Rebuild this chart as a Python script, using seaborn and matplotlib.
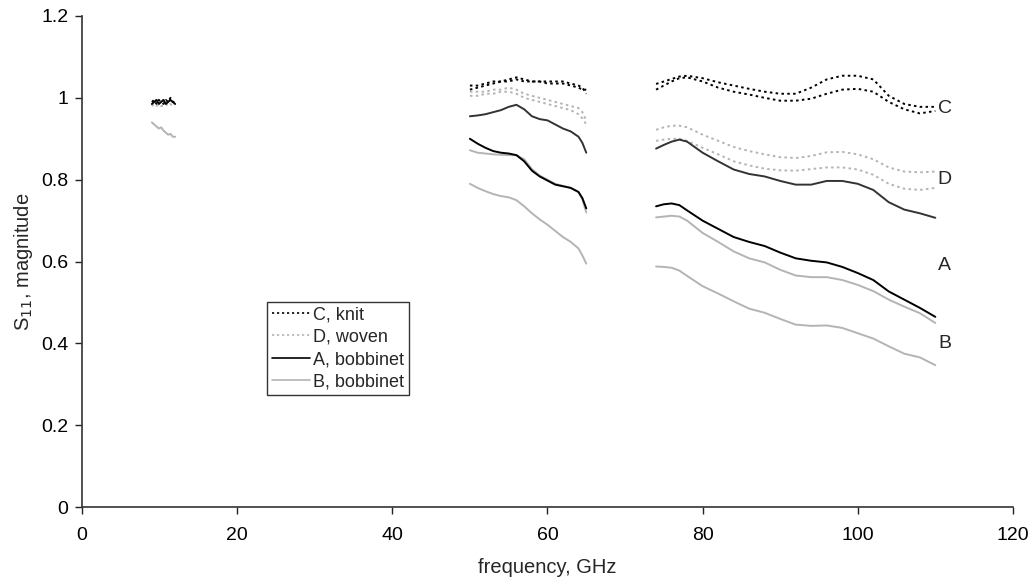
import matplotlib
matplotlib.use("Agg")
import matplotlib.pyplot as plt
import seaborn as sns
import pandas as pd

# frequency points (GHz) for the three measured bands
band_x = [9.0, 9.3, 9.6, 9.9, 10.2, 10.5, 10.8, 11.1, 11.4, 11.7, 12.0]
band_v = [50, 51, 52, 53, 54, 55, 56, 57, 58, 59, 60, 61, 62, 63, 64, 64.5, 65]
band_w = [74, 75, 76, 77, 78, 80, 82, 84, 86, 88, 90, 92, 94, 96, 98, 100, 102, 104, 106, 108, 110]

# C, knit
c_x = [0.99, 0.995, 0.985, 0.995, 0.99, 0.985, 0.995, 0.99, 1.0, 0.99, 0.99]
c1_v = [1.02, 1.025, 1.03, 1.035, 1.04, 1.045, 1.05, 1.045, 1.04, 1.04, 1.04, 1.04, 1.04, 1.035, 1.03, 1.025, 1.01]
c2_v = [1.03, 1.03, 1.035, 1.04, 1.04, 1.04, 1.045, 1.04, 1.04, 1.04, 1.035, 1.035, 1.035, 1.03, 1.025, 1.02, 1.02]
c1_w = [1.034, 1.04, 1.046, 1.052, 1.054, 1.048, 1.038, 1.03, 1.022, 1.015, 1.01, 1.01, 1.025, 1.045, 1.054, 1.054, 1.045, 1.005, 0.985, 0.978, 0.978]
c2_w = [1.02, 1.03, 1.04, 1.048, 1.05, 1.04, 1.025, 1.015, 1.008, 1.0, 0.993, 0.993, 0.998, 1.01, 1.02, 1.022, 1.015, 0.99, 0.972, 0.962, 0.968]

# D, woven
d_x = [0.98, 0.985, 0.98, 0.985, 0.98, 0.98, 0.985, 0.98, 0.985, 0.98, 0.98]
d1_v = [1.015, 1.015, 1.015, 1.02, 1.02, 1.025, 1.02, 1.01, 1.005, 1.0, 0.995, 0.99, 0.985, 0.98, 0.975, 0.965, 0.945]
d2_v = [1.005, 1.005, 1.01, 1.01, 1.015, 1.015, 1.01, 1.0, 0.995, 0.99, 0.985, 0.98, 0.975, 0.97, 0.96, 0.95, 0.935]
d1_w = [0.922, 0.928, 0.932, 0.932, 0.928, 0.91, 0.895, 0.88, 0.87, 0.862, 0.855, 0.853, 0.858, 0.867, 0.868, 0.862, 0.85, 0.83, 0.82, 0.818, 0.82]
d2_w = [0.895, 0.898, 0.9, 0.9, 0.895, 0.878, 0.862, 0.845, 0.835, 0.827, 0.823, 0.822, 0.826, 0.83, 0.83, 0.825, 0.812, 0.79, 0.778, 0.775, 0.78]

# A, bobbinet
a_x = [0.985, 0.99, 0.995, 0.985, 0.99, 0.995, 0.985, 0.99, 0.995, 0.99, 0.985]
a1_v = [0.955, 0.957, 0.96, 0.965, 0.97, 0.978, 0.983, 0.972, 0.955, 0.948, 0.945, 0.935, 0.925, 0.918, 0.905, 0.89, 0.866]
a2_v = [0.9, 0.888, 0.878, 0.87, 0.866, 0.864, 0.86, 0.845, 0.822, 0.808, 0.798, 0.788, 0.784, 0.78, 0.77, 0.755, 0.73]
a1_w = [0.876, 0.885, 0.893, 0.898, 0.893, 0.866, 0.845, 0.825, 0.814, 0.808, 0.797, 0.788, 0.788, 0.797, 0.797, 0.79, 0.775, 0.745, 0.727, 0.718, 0.707]
a2_w = [0.735, 0.74, 0.742, 0.738, 0.725, 0.7, 0.68, 0.66, 0.648, 0.638, 0.622, 0.608, 0.602, 0.598, 0.587, 0.572, 0.555, 0.527, 0.507, 0.487, 0.465]

# B, bobbinet
b_x = [0.94, 0.935, 0.93, 0.925, 0.928, 0.92, 0.915, 0.91, 0.912, 0.905, 0.905]
b1_v = [0.872, 0.866, 0.864, 0.862, 0.861, 0.86, 0.86, 0.85, 0.826, 0.81, 0.8, 0.79, 0.785, 0.78, 0.77, 0.752, 0.72]
b2_v = [0.79, 0.78, 0.772, 0.765, 0.76, 0.757, 0.75, 0.735, 0.718, 0.703, 0.69, 0.675, 0.66, 0.648, 0.632, 0.615, 0.595]
b1_w = [0.708, 0.71, 0.712, 0.71, 0.7, 0.67, 0.648, 0.625, 0.608, 0.598, 0.58, 0.566, 0.562, 0.562, 0.555, 0.543, 0.528, 0.507, 0.49, 0.474, 0.45]
b2_w = [0.588, 0.587, 0.585, 0.578, 0.565, 0.54, 0.522, 0.503, 0.485, 0.475, 0.46, 0.446, 0.443, 0.444, 0.438, 0.425, 0.412, 0.393, 0.375, 0.366, 0.347]

labels = ["C, knit", "D, woven", "A, bobbinet", "B, bobbinet"]
end_tags = ["C", "D", "A", "B"]
tag_y = [0.973, 0.80, 0.59, 0.40]

dot = (0, (1.3, 1.7))
black = "#000000"
grey = "#b4b4b4"

# (label, freq, values, colour, style) -- only the first of each sample goes in legend
traces = [
    (labels[0], band_x, c_x, black, dot),
    (None, band_v, c1_v, black, dot),
    (None, band_v, c2_v, black, dot),
    (None, band_w, c1_w, black, dot),
    (None, band_w, c2_w, black, dot),
    (labels[1], band_x, d_x, grey, dot),
    (None, band_v, d1_v, grey, dot),
    (None, band_v, d2_v, grey, dot),
    (None, band_w, d1_w, grey, dot),
    (None, band_w, d2_w, grey, dot),
    (None, band_v, b1_v, grey, "-"),
    (None, band_v, b2_v, grey, "-"),
    (None, band_w, b1_w, grey, "-"),
    (None, band_w, b2_w, grey, "-"),
    (labels[2], band_x, a_x, black, "-"),
    (None, band_v, a1_v, "#333333", "-"),
    (None, band_v, a2_v, black, "-"),
    (None, band_w, a1_w, "#333333", "-"),
    (None, band_w, a2_w, black, "-"),
    (labels[3], band_x, b_x, grey, "-"),
]

sns.set_style("white")
plt.rcParams["font.family"] = ["Liberation Sans", "DejaVu Sans"]

fig = plt.figure(figsize=(10.32, 5.83), dpi=100)
ax = fig.add_axes([0.0795, 0.130, 0.902, 0.8426])

for lab, fx, fy, col, ls in traces:
    df = pd.DataFrame({"f": fx, "s": fy})
    sns.lineplot(data=df, x="f", y="s", ax=ax, color=col, linestyle=ls,
                 linewidth=1.4, label=lab, estimator=None, sort=False)

for t, y in zip(end_tags, tag_y):
    ax.text(111.2, y, t, fontsize=14, ha="center", va="center")

ax.set_xlim(0, 120)
ax.set_ylim(0, 1.2)
ax.set_xticks([0, 20, 40, 60, 80, 100, 120])
ax.set_yticks([0, 0.2, 0.4, 0.6, 0.8, 1.0, 1.2])
ax.set_yticklabels(["0", "0.2", "0.4", "0.6", "0.8", "1", "1.2"])
ax.tick_params(axis="x", pad=9)
ax.tick_params(axis="y", pad=5)
ax.tick_params(direction="out", length=5, width=1, colors="#222222",
               labelsize=14, labelcolor="black", bottom=True, left=True)
ax.set_xlabel("frequency, GHz", fontsize=14.5, labelpad=10)
ax.set_ylabel("S$_{11}$, magnitude", fontsize=14.5, labelpad=4)
for side in ["top", "right"]:
    ax.spines[side].set_visible(False)
for side in ["left", "bottom"]:
    ax.spines[side].set_color("#333333")
    ax.spines[side].set_linewidth(1.2)

leg = ax.legend(loc="upper left", bbox_to_anchor=(0.199, 0.418), fontsize=13,
                frameon=True, fancybox=False, edgecolor="black",
                handlelength=2.1, handletextpad=0.2, borderpad=0.25,
                labelspacing=0.3, borderaxespad=0)
leg.get_frame().set_linewidth(1.0)
for h in leg.get_lines():
    h.set_linewidth(1.2)

fig.savefig("out.png", dpi=100)
